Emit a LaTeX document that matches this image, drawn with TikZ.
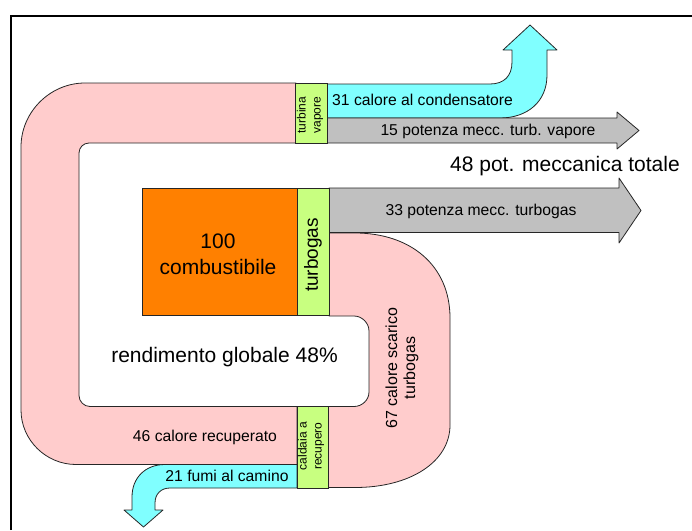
\documentclass[tikz,border=0pt]{standalone}
\usepackage{fontspec}
\setmainfont{Liberation Sans}
\definecolor{pinkf}{HTML}{FFCCCC}
\definecolor{cyanf}{HTML}{80FFFF}
\definecolor{grayf}{HTML}{C0C0C0}
\definecolor{orangef}{HTML}{FF8000}
\definecolor{greenf}{HTML}{C8FF80}
\tikzset{
 flow/.style={draw=black!85, line width=0.8pt, line join=round},
 box/.style={draw=black!85, line width=0.9pt},
 lbl/.style={inner sep=0pt, font=\fontsize{15.7}{18}\selectfont},
 big/.style={inner sep=0pt, font=\fontsize{21}{26}\selectfont, align=center},
 small/.style={inner sep=0pt, font=\fontsize{12}{15}\selectfont, align=center, rotate=90},
}
\begin{document}
\begin{tikzpicture}[x=1pt,y=-1pt]
\useasboundingbox (0,0) rectangle (692,530);
% frame
\draw[line width=2pt] (11,530) -- (11,16) -- (692,16);
% steam loop
\path[flow, fill=pinkf] (296,83) -- (85,83) .. controls (50,83) and (21,112) .. (21,147) -- (21,410) .. controls (21,440) and (46,464.5) .. (76,464.5) -- (297,464.5) -- (297,406.5) -- (90,406.5) .. controls (84,406.5) and (79,401.5) .. (79,395.5) -- (79,153) .. controls (79,147.5) and (83.5,143) .. (89,143) -- (296,143) -- cycle;
% turbogas exhaust loop
\path[flow, fill=pinkf] (329,233) -- (355,233) .. controls (410,233) and (450,265) .. (450,318) -- (450,425) .. controls (450,462) and (410,487.5) .. (355,487.5) -- (328,487.5) -- (328,406.5) -- (354,406.5) .. controls (362,406.5) and (369,400) .. (369,392) -- (369,331) .. controls (369,323) and (362,316) .. (354,316) -- (329,316) -- cycle;
% condenser heat
\path[flow, fill=cyanf] (327,84) -- (490,84) .. controls (504,84) and (512,76) .. (512,62) -- (512,50) -- (503,50) -- (530,25) -- (557,50) -- (547,50) -- (547,75) .. controls (547,102) and (527,118) .. (500,118) -- (327,118) -- cycle;
% flue gas
\path[flow, fill=cyanf] (297,464.5) -- (165,464.5) .. controls (145,464.5) and (132,478) .. (132,497) -- (132,510) -- (124,510) -- (143.5,527) -- (163,510) -- (155,510) -- (155,503) .. controls (155,494) and (161,488) .. (170,488) -- (297,488) -- cycle;
% mechanical power arrows
\path[flow, fill=grayf] (327,118) -- (617,118) -- (617,112) -- (639,130.5) -- (617,149) -- (617,143) -- (327,143) -- cycle;
\path[flow, fill=grayf] (329,188) -- (619,188) -- (619,178) -- (641,210.5) -- (619,243) -- (619,232.5) -- (329,232.5) -- cycle;
% boxes
\draw[box, fill=orangef] (142,188) rectangle (297,315.5);
\draw[box, fill=greenf] (297,188) rectangle (329,315.5);
\draw[box, fill=greenf] (295,83) rectangle (327,143);
\draw[box, fill=greenf] (297,406.5) rectangle (328,488);
% texts
\node[lbl, anchor=west] (t31) at (332,100) {31 calore al condensatore};
\node[lbl] (t15) at (488,131) {15 potenza mecc. turb. vapore};
\node[big, anchor=west] (t48) at (450,166) {48 pot. meccanica totale};
\node[lbl] (t33) at (481,211) {33 potenza mecc. turbogas};
\node[big] (t100) at (218,254) {100\\combustibile};
\node[inner sep=0pt, font=\fontsize{19}{22}\selectfont, rotate=90] (ttg) at (313,255) {turbogas};
\node[big] (trend) at (224.5,357) {rendimento globale 48\%};
\node[lbl] (t46) at (205,437) {46 calore recuperato};
\node[lbl] (t21) at (227,476) {21 fumi al camino};
\node[small] (tcal) at (311,446) {caldaia a\\recupero};
\node[small] (ttv) at (310,115) {turbina\\vapore};
\node[inner sep=0pt, font=\fontsize{16}{18}\selectfont, align=center, rotate=90] (t67) at (402,368) {67 calore scarico\\turbogas};
\end{tikzpicture}
\end{document}
